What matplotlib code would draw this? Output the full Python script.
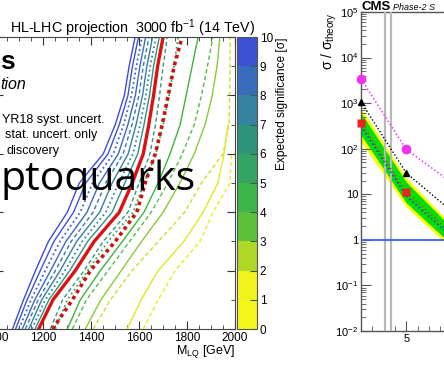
import numpy as np
import matplotlib
matplotlib.use('Agg')
import matplotlib.pyplot as plt
from matplotlib.colors import ListedColormap, BoundaryNorm
from matplotlib.cm import ScalarMappable
from matplotlib.ticker import MultipleLocator, FixedLocator, NullFormatter

plt.rcParams['font.family'] = ['Liberation Sans', 'DejaVu Sans']
plt.rcParams['mathtext.fontset'] = 'custom'
plt.rcParams['mathtext.rm'] = 'Liberation Sans'
plt.rcParams['mathtext.it'] = 'Liberation Sans:italic'
plt.rcParams['mathtext.bf'] = 'Liberation Sans:bold'

nan = np.nan

# ---------------- left panel: significance contours ----------------
lam = [0.0, 0.1, 0.2, 0.3, 0.4, 0.5, 0.6, 0.7, 0.8, 0.9, 1.0]

m_a = [1071, 1117, 1167, 1221, 1300, 1350, 1450, 1500, 1538, 1558, 1583]
m_b = [1084, 1132, 1187, 1244, 1326, 1377, 1470, 1517, 1553, 1572, 1597]
m_c = [1098, 1148, 1208, 1269, 1354, 1405, 1492, 1535, 1568, 1588, 1612]
m_d = [1112, 1164, 1230, 1294, 1382, 1434, 1513, 1553, 1584, 1603, 1627]
m_e = [1125, 1178, 1250, 1316, 1408, 1460, 1533, 1570, 1599, 1617, 1641]
m_f = [1139, 1193, 1270, 1339, 1435, 1487, 1554, 1587, 1614, 1632, 1656]
m_g = [1152, 1208, 1290, 1362, 1461, 1514, 1574, 1604, 1628, 1646, 1670]
m_h = [1165, 1223, 1310, 1385, 1487, 1540, 1594, 1620, 1643, 1660, 1684]
m_red = [1180, 1240, 1333, 1412, 1517, 1571, 1617, 1640, 1660, 1677, 1700]
m_i = [1229, 1280, 1370, 1450, 1553, 1600, 1645, 1668, 1685, 1700, 1717]
m_j = [1250, 1300, 1385, 1470, 1575, 1620, 1670, 1700, 1725, 1745, 1763]
m_red_stat = [1238, 1321, 1396, 1500, 1590, 1625, 1667, 1696, 1721, 1746, 1779]
m_k = [1300, 1354, 1438, 1530, 1620, 1679, 1729, 1771, 1796, 1821, 1846]
m_l = [1321, 1380, 1470, 1560, 1650, 1720, 1780, 1830, 1860, 1885, 1908]
m_m = [1375, 1440, 1525, 1610, 1700, 1770, 1830, 1875, 1905, 1925, 1937]
m_n = [1408, 1480, 1570, 1680, 1790, 1860, 1950, 1975, 1978, 1979, 1980]
m_o = [1550, 1608, 1679, 1787, 1867, 1929, 1954, 1971, nan, nan, nan]
m_p = [1617, 1679, 1750, 1854, 1908, 1979, 1985, nan, nan, nan, nan]

# (values, colour, linestyle, width)
contours = [
    (m_a, '#3d4bd8', '-', 1.0),
    (m_b, '#3c55d2', '-', 1.0),
    (m_c, '#3c5fca', ':', 1.3),
    (m_d, '#3a6ac0', '-', 1.0),
    (m_e, '#3874b2', (0, (3, 2)), 1.0),
    (m_f, '#357ea4', '-', 1.0),
    (m_g, '#318894', ':', 1.3),
    (m_h, '#2e9185', '-', 1.0),
    (m_i, '#2e9a7c', (0, (3, 2)), 1.0),
    (m_j, '#32a860', ':', 1.3),
    (m_k, '#3cb43c', '-', 1.0),
    (m_l, '#4ec040', (0, (3, 2)), 1.0),
    (m_m, '#86cc34', '-', 1.0),
    (m_n, '#c4e02a', (0, (3, 2)), 1.0),
    (m_o, '#dfe820', '-', 1.0),
    (m_p, '#e6ee22', (0, (3, 2)), 1.0),
]

sig_levels = [0, 1, 2, 3, 4, 5, 6, 7, 8, 9, 10]
sig_colors = ['#f5f51e', '#f2f21e', '#b0d828', '#5cc03a', '#3cb54a',
              '#35a462', '#2e9478', '#3282a0', '#3a6cbc', '#3c52d4']

# ---------------- right panel: limits vs mass ----------------
mass = [1, 5, 10]
obs = [375, 11, 0.85]
exp_med = [315, 9.2, 0.71]
exp_1up = [610, 18.7, 1.05]
exp_1dn = [200, 6.5, 0.47]
exp_2up = [785, 22.9, 1.2]
exp_2dn = [141, 5.3, 0.38]
alt_black = [1070, 29.5, 2.65]
alt_magenta = [3400, 97, 12]
excl_lines = [3.12, 3.63]

W, H = 444, 375


def box(x0, y0, x1, y1):
    return [x0 / W, 1 - y1 / H, (x1 - x0) / W, (y1 - y0) / H]


fig = plt.figure(figsize=(W / 100, H / 100), dpi=100)

# left plot
ax = fig.add_axes(box(-4.5, 37, 235, 329))
for vals, col, ls, lw in contours:
    ax.plot(vals, lam, color=col, ls=ls, lw=lw)
ax.plot(m_red, lam, color='#dd1111', lw=2.4)
ax.plot(m_red_stat, lam, color='#cc1111', lw=2.6, ls=(0, (1, 1)))
ax.set_xlim(1000, 2000)
ax.set_ylim(0, 1)
ax.xaxis.set_major_locator(MultipleLocator(200))
ax.xaxis.set_minor_locator(MultipleLocator(50))
ax.yaxis.set_major_locator(MultipleLocator(0.2))
ax.yaxis.set_minor_locator(MultipleLocator(0.1))
ax.tick_params(which='both', direction='in', top=True, right=True,
               labelsize=8.5, pad=2, color='#333333')
ax.tick_params(which='major', length=6)
ax.tick_params(which='minor', length=3)
ax.set_yticklabels([])
for s in ax.spines.values():
    s.set_color('#444444')
    s.set_linewidth(0.8)
fig.text(235 / W, 1 - 352 / H, r'M$_{\mathrm{LQ}}$ [GeV]', ha='right',
         va='center', fontsize=9)

fig.text(10 / W, 1 - 28 / H, 'HL-LHC projection  3000 fb$^{-1}$ (14 TeV)',
         ha='left', va='center', fontsize=10.3)
fig.text(0, 1 - 69 / H, 's', fontsize=19, fontweight='bold', va='baseline')
fig.text(0, 1 - 89 / H, 'tion', fontsize=11.5, style='italic', va='baseline')
fig.text(2 / W, 1 - 120 / H, 'YR18 syst. uncert.', fontsize=9, va='center')
fig.text(5 / W, 1 - 135 / H, 'stat. uncert. only', fontsize=9, va='center')
fig.text(6 / W, 1 - 151 / H, 'discovery', fontsize=9, va='center')

# colour bar
cax = fig.add_axes(box(237, 37, 257, 329))
cmap = ListedColormap(sig_colors)
norm = BoundaryNorm(sig_levels, cmap.N)
cb = fig.colorbar(ScalarMappable(norm=norm, cmap=cmap), cax=cax,
                  ticks=sig_levels)
cb.outline.set_edgecolor('#555555')
cb.outline.set_linewidth(0.8)
cax.tick_params(direction='in', length=5, labelsize=8.5, pad=2,
                color='#2a6a3a')
fig.text(282 / W, 1 - 37 / H, 'Expected significance [σ]', rotation=90,
         ha='center', va='top', fontsize=8.6)

# right plot
ax2 = fig.add_axes(box(361, 12, 496.6, 331))
ax2.set_yscale('log')
ax2.fill_between(mass, exp_2dn, exp_2up, color='#ffff00', lw=0, zorder=1)
ax2.fill_between(mass, exp_1dn, exp_1up, color='#00e000', lw=0, zorder=2)
for xv in excl_lines:
    ax2.axvline(xv, color='#b8b8b8', lw=1.6, zorder=3)
ax2.axhline(1, color='#3b5bff', lw=1.3, zorder=3)
ax2.plot(mass, exp_med, color='#2233ff', ls=(0, (1, 1.5)), lw=1.2, zorder=4)
ax2.plot(mass, obs, color='#ee2222', ls=(0, (1, 2)), lw=1.0, marker='s',
         ms=6, mec='none', zorder=5, clip_on=False)
ax2.plot(mass, alt_black, color='black', ls=(0, (1, 1.5)), lw=1.0,
         marker='^', ms=5, zorder=5, clip_on=False)
ax2.plot(mass, alt_magenta, color='#ee33ee', ls=(0, (1, 1.5)), lw=1.1,
         marker='o', ms=6, zorder=5, clip_on=False)
ax2.set_xlim(1, 13)
ax2.set_ylim(1e-2, 1e5)
ax2.xaxis.set_major_locator(FixedLocator([5]))
ax2.xaxis.set_minor_locator(MultipleLocator(1))
ax2.yaxis.set_major_locator(FixedLocator([1e-2, 1e-1, 1, 10, 1e2, 1e3, 1e4, 1e5]))
ax2.set_yticklabels(['10$^{-2}$', '10$^{-1}$', '1', '10', '10$^{2}$',
                     '10$^{3}$', '10$^{4}$', '10$^{5}$'])
ax2.yaxis.set_minor_locator(FixedLocator(
    [k * 10.0 ** e for e in range(-2, 5) for k in range(2, 10)]))
ax2.yaxis.set_minor_formatter(NullFormatter())
ax2.tick_params(which='both', direction='in', labelsize=8, pad=2,
                color='#555555')
ax2.tick_params(which='major', length=7)
ax2.tick_params(which='minor', length=3.5)
for s in ax2.spines.values():
    s.set_color('#555555')
    s.set_linewidth(1.0)
fig.text(329 / W, 1 - 12 / H, r'σ / σ$_{\mathrm{theory}}$', rotation=90,
         ha='center', va='top', fontsize=10)
fig.text(361 / W, 1 - 10.5 / H, 'CMS', fontsize=9.5, fontweight='bold',
         va='baseline')
fig.text(393 / W, 1 - 10.5 / H, 'Phase-2 S', fontsize=6.5, style='italic',
         va='baseline')

# slide title overlapping the plots
fig.text(0, 1 - 190 / H, 'ptoquarks', family='Open Sans', fontsize=29.5,
         color='black', va='baseline')

fig.savefig('out.png', dpi=100)
